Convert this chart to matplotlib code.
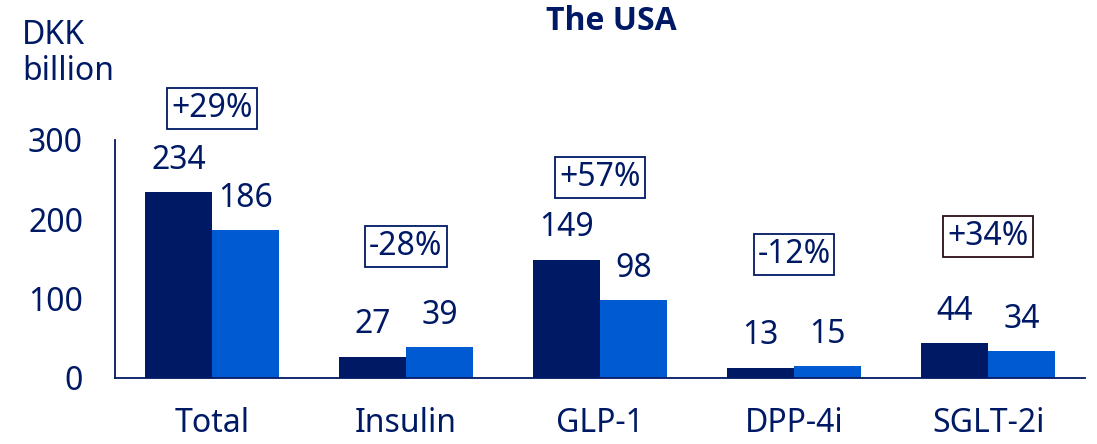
import numpy as np
import matplotlib.pyplot as plt

plt.rcParams['font.family'] = ['Noto Sans', 'DejaVu Sans']

# ------- values (DKK billion)
categories = ['Total', 'Insulin', 'GLP-1', 'DPP-4i', 'SGLT-2i']
current = [234, 27, 149, 13, 44]
previous = [186, 39, 98, 15, 34]
growth = ['+29%', '-28%', '+57%', '-12%', '+34%']
growth_y = [340, 166, 253, 156, 178]

navy = '#001965'
blue = '#005AD2'
box_edges = [navy, navy, navy, navy, '#2b0d17']
fs = 23

fig = plt.figure(figsize=(10.97, 4.44), dpi=100)
ax = fig.add_axes([115/1097, 1 - 378/444, 970/1097, 238/444])

x = np.arange(len(categories))
w = 0.345
b1 = ax.bar(x - w/2, current, w, color=navy)
b2 = ax.bar(x + w/2, previous, w, color=blue)

for bars, vals in ((b1, current), (b2, previous)):
    for r, v in zip(bars, vals):
        ax.annotate(str(v), (r.get_x() + r.get_width()/2, v), xytext=(0, 23),
                    textcoords='offset points', ha='center', va='center',
                    fontsize=fs, color=navy, annotation_clip=False)

for xi, txt, yy, ec in zip(x, growth, growth_y, box_edges):
    ax.text(xi, yy, txt, ha='center', va='center', fontsize=fs, color=navy,
            clip_on=False,
            bbox=dict(boxstyle='square,pad=0.12', fc='white', ec=ec, lw=1.3))

ax.set_xlim(-0.5, 4.5)
ax.set_ylim(0, 300)
ax.set_yticks([0, 100, 200, 300])
ax.set_xticks(x)
ax.set_xticklabels(categories)
ax.tick_params(axis='both', length=0, labelsize=fs, labelcolor=navy)
ax.tick_params(axis='y', pad=23)
ax.tick_params(axis='x', pad=21)
for s in ('top', 'right'):
    ax.spines[s].set_visible(False)
for s in ('left', 'bottom'):
    ax.spines[s].set_color(navy)
    ax.spines[s].set_linewidth(1.3)

fig.text(22/1097, 1 - 35/444, 'DKK', fontsize=fs, color=navy, va='center')
fig.text(22/1097, 1 - 72/444, 'billion', fontsize=fs, color=navy, va='center')
fig.text(611/1097, 1 - 22/444, 'The USA', fontsize=23, fontweight='bold',
         family=['Open Sans', 'DejaVu Sans'],
         color=navy, ha='center', va='center')

fig.savefig('out.png', dpi=100)
